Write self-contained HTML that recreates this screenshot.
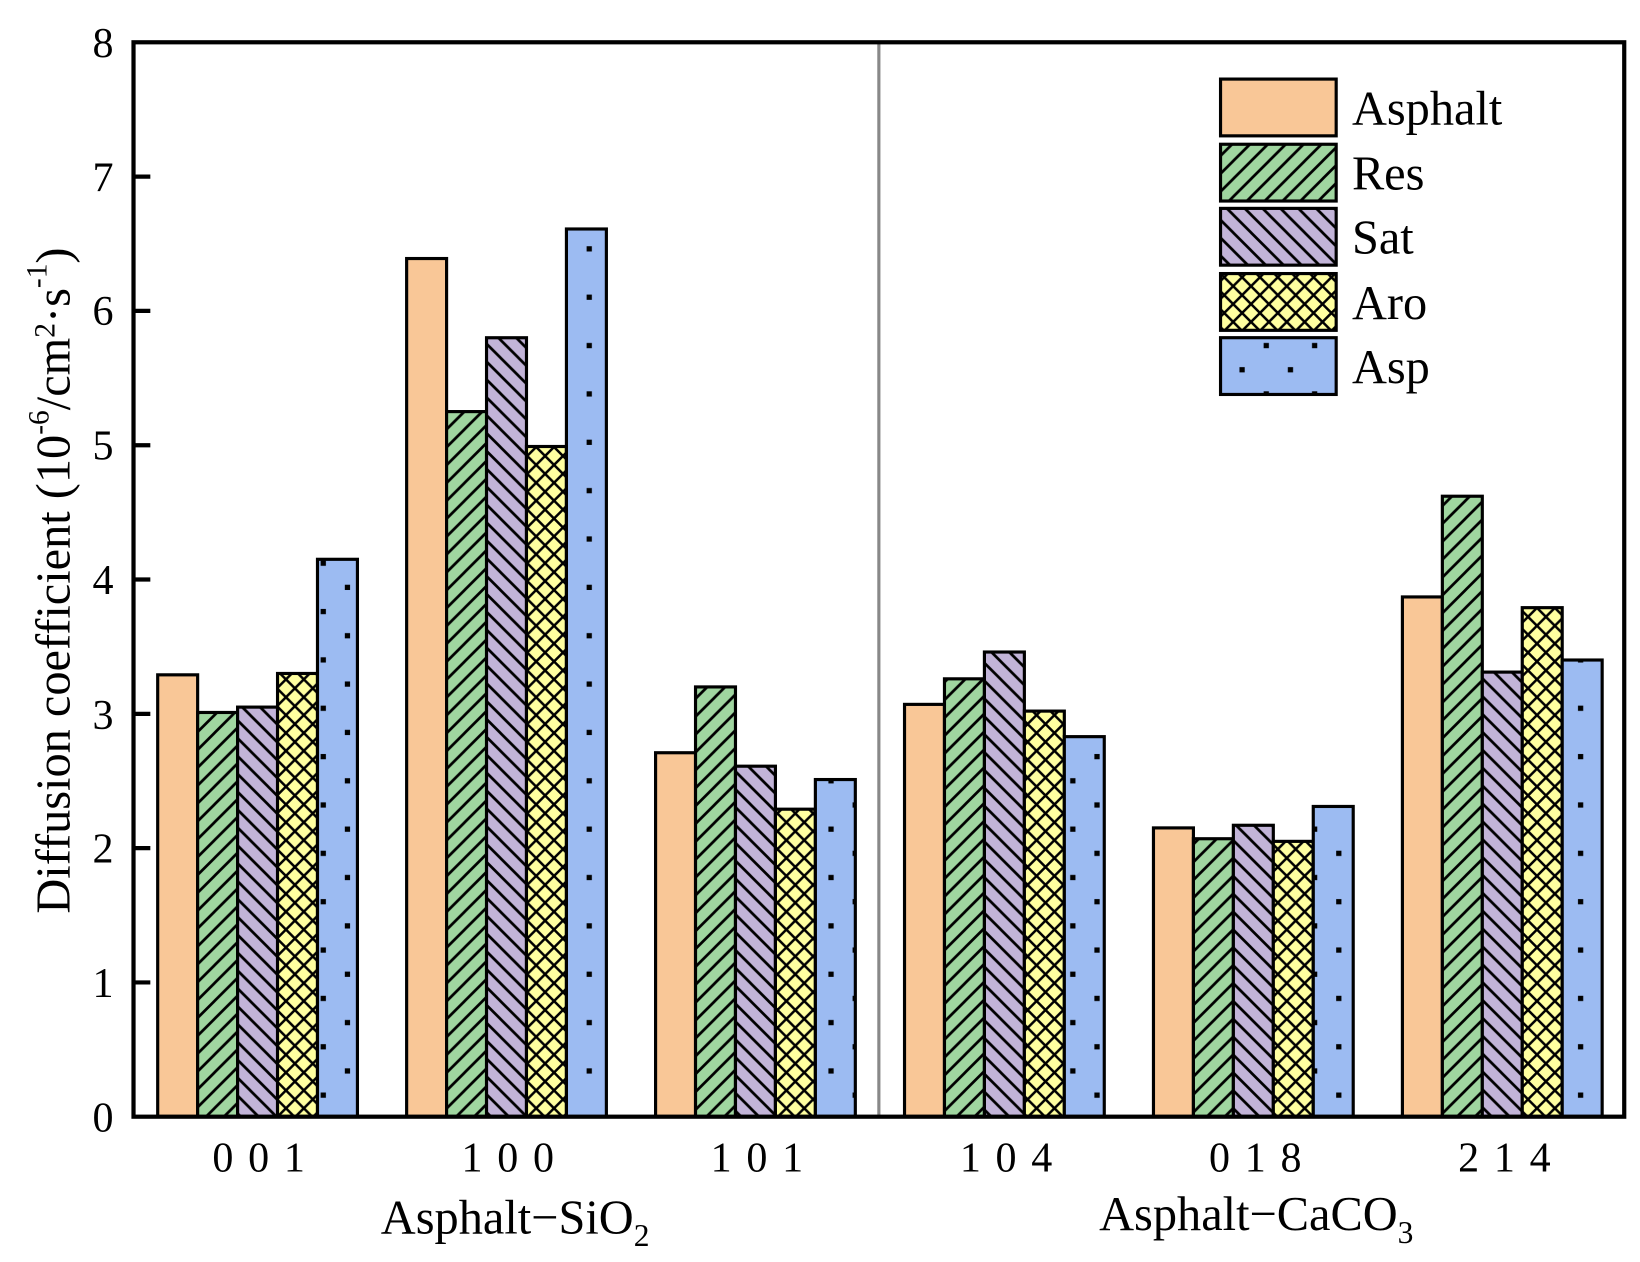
<!DOCTYPE html>
<html><head><meta charset="utf-8"><style>html,body{margin:0;padding:0;background:#fff}svg{display:block}</style></head>
<body>
<svg width="1640" height="1262" viewBox="0 0 1560 1200" xmlns="http://www.w3.org/2000/svg" font-family="Liberation Serif, serif">
<defs>
<pattern id="pg" patternUnits="userSpaceOnUse" width="17" height="17"><rect width="17" height="17" fill="#A0D6A0"/><path d="M-2,19 L19,-2 M-5,5 L5,-5 M12,22 L22,12" stroke="#000" stroke-width="2.6"/></pattern>
<pattern id="pp" patternUnits="userSpaceOnUse" width="17" height="17"><rect width="17" height="17" fill="#C2B4D8"/><path d="M-2,-2 L19,19 M-5,12 L5,22 M12,-5 L22,5" stroke="#000" stroke-width="2.6"/></pattern>
<pattern id="py" patternUnits="userSpaceOnUse" width="17" height="17"><rect width="17" height="17" fill="#FFFFA0"/><path d="M-2,-2 L19,19 M-2,19 L19,-2" stroke="#000" stroke-width="2.4"/></pattern>
<pattern id="pb" patternUnits="userSpaceOnUse" width="46" height="46"><rect width="46" height="46" fill="#9CBBF2"/><rect x="6" y="4" width="5" height="5" fill="#000"/><rect x="29" y="27" width="5" height="5" fill="#000"/></pattern>
</defs>
<g stroke="#000" stroke-width="3">
<rect x="150" y="641.7" width="38" height="420.3" fill="#F9C797"/>
<rect x="188" y="677.5" width="38" height="384.5" fill="url(#pg)"/>
<rect x="226" y="672.4" width="38" height="389.6" fill="url(#pp)"/>
<rect x="264" y="640.4" width="38" height="421.6" fill="url(#py)"/>
<rect x="302" y="531.8" width="38" height="530.2" fill="url(#pb)"/>
<rect x="386.8" y="245.7" width="38" height="816.3" fill="#F9C797"/>
<rect x="424.8" y="391.3" width="38" height="670.7" fill="url(#pg)"/>
<rect x="462.8" y="321.05" width="38" height="740.95" fill="url(#pp)"/>
<rect x="500.8" y="424.5" width="38" height="637.5" fill="url(#py)"/>
<rect x="538.8" y="217.6" width="38" height="844.4" fill="url(#pb)"/>
<rect x="623.6" y="715.8" width="38" height="346.2" fill="#F9C797"/>
<rect x="661.6" y="653.2" width="38" height="408.8" fill="url(#pg)"/>
<rect x="699.6" y="728.6" width="38" height="333.4" fill="url(#pp)"/>
<rect x="737.6" y="769.5" width="38" height="292.5" fill="url(#py)"/>
<rect x="775.6" y="741.3" width="38" height="320.7" fill="url(#pb)"/>
<rect x="860.4" y="669.8" width="38" height="392.2" fill="#F9C797"/>
<rect x="898.4" y="645.5" width="38" height="416.5" fill="url(#pg)"/>
<rect x="936.4" y="620" width="38" height="442" fill="url(#pp)"/>
<rect x="974.4" y="676.2" width="38" height="385.8" fill="url(#py)"/>
<rect x="1012.4" y="700.5" width="38" height="361.5" fill="url(#pb)"/>
<rect x="1097.2" y="787.3" width="38" height="274.7" fill="#F9C797"/>
<rect x="1135.2" y="797.6" width="38" height="264.4" fill="url(#pg)"/>
<rect x="1173.2" y="784.8" width="38" height="277.2" fill="url(#pp)"/>
<rect x="1211.2" y="800.1" width="38" height="261.9" fill="url(#py)"/>
<rect x="1249.2" y="766.9" width="38" height="295.1" fill="url(#pb)"/>
<rect x="1334" y="567.6" width="38" height="494.4" fill="#F9C797"/>
<rect x="1372" y="471.8" width="38" height="590.2" fill="url(#pg)"/>
<rect x="1410" y="639.1" width="38" height="422.9" fill="url(#pp)"/>
<rect x="1448" y="577.8" width="38" height="484.2" fill="url(#py)"/>
<rect x="1486" y="627.6" width="38" height="434.4" fill="url(#pb)"/>
</g>
<line x1="836" y1="40" x2="836" y2="1062" stroke="#888" stroke-width="3"/>
<rect x="127" y="40" width="1418" height="1022" fill="none" stroke="#000" stroke-width="4"/>
<g stroke="#000" stroke-width="4">
<line x1="127" y1="934.3" x2="143" y2="934.3"/><line x1="127" y1="806.5" x2="143" y2="806.5"/><line x1="127" y1="678.8" x2="143" y2="678.8"/><line x1="127" y1="551" x2="143" y2="551"/><line x1="127" y1="423.3" x2="143" y2="423.3"/><line x1="127" y1="295.5" x2="143" y2="295.5"/><line x1="127" y1="167.8" x2="143" y2="167.8"/>
</g>
<g font-size="40" text-anchor="end">
<text x="108" y="1076">0</text><text x="108" y="948">1</text><text x="108" y="820">2</text><text x="108" y="693">3</text><text x="108" y="565">4</text><text x="108" y="437">5</text><text x="108" y="309">6</text><text x="108" y="182">7</text><text x="108" y="54">8</text>
</g>
<g font-size="40" text-anchor="middle" letter-spacing="2">
<text x="247" y="1114">0 0 1</text><text x="484" y="1114">1 0 0</text><text x="721" y="1114">1 0 1</text><text x="958" y="1114">1 0 4</text><text x="1195" y="1114">0 1 8</text><text x="1432" y="1114">2 1 4</text>
</g>
<g font-size="46" text-anchor="middle">
<text x="490" y="1173">Asphalt−SiO<tspan font-size="30" dy="12">2</tspan></text>
<text x="1195" y="1170">Asphalt−CaCO<tspan font-size="30" dy="12">3</tspan></text>
</g>
<text transform="translate(66,552) rotate(-90)" font-size="46" text-anchor="middle">Diffusion coefficient (10<tspan font-size="28" dy="-20">-6</tspan><tspan dy="20">/cm</tspan><tspan font-size="28" dy="-14">2</tspan><tspan dy="14">·s</tspan><tspan font-size="28" dy="-22">-1</tspan><tspan dy="22">)</tspan></text>
<g stroke="#000" stroke-width="3">
<rect x="1161" y="75" width="110" height="54" fill="#F9C797"/>
<rect x="1161" y="137" width="110" height="54" fill="url(#pg)"/>
<rect x="1161" y="198" width="110" height="54" fill="url(#pp)"/>
<rect x="1161" y="260" width="110" height="54" fill="url(#py)"/>
<rect x="1161" y="321" width="110" height="54" fill="url(#pb)"/>
</g>
<g font-size="46">
<text x="1286" y="118">Asphalt</text><text x="1286" y="180">Res</text><text x="1286" y="241">Sat</text><text x="1286" y="303">Aro</text><text x="1286" y="364">Asp</text>
</g>
</svg>
</body></html>
